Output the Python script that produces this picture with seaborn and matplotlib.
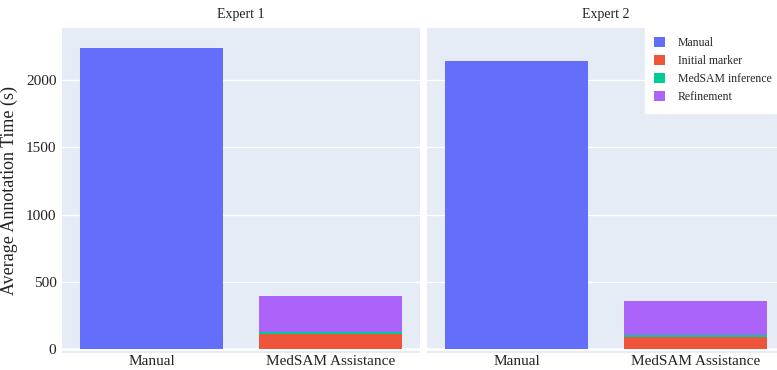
import matplotlib
matplotlib.use("Agg")
import matplotlib.pyplot as plt
import seaborn as sns
import pandas as pd
from matplotlib.patches import Patch

experts = ["Expert 1", "Expert 2"]
categories = ["Manual", "MedSAM Assistance"]
manual_time = [2236, 2140]
initial_marker = [115, 90]
medsam_inference = [12, 15]
refinement = [267, 255]

components = ["Manual", "Initial marker", "MedSAM inference", "Refinement"]
colors = {"Manual": "#636EFA", "Initial marker": "#EF553B",
          "MedSAM inference": "#00CC96", "Refinement": "#AB63FA"}

rows = []
for i, ex in enumerate(experts):
    rows.append(dict(expert=ex, category="Manual", component="Manual", top=manual_time[i]))
    c1 = initial_marker[i]
    c2 = c1 + medsam_inference[i]
    c3 = c2 + refinement[i]
    rows.append(dict(expert=ex, category="MedSAM Assistance", component="Refinement", top=c3))
    rows.append(dict(expert=ex, category="MedSAM Assistance", component="MedSAM inference", top=c2))
    rows.append(dict(expert=ex, category="MedSAM Assistance", component="Initial marker", top=c1))
df = pd.DataFrame(rows)

sns.set_theme(style="white")
plt.rcParams["font.family"] = ["Liberation Serif", "DejaVu Serif"]

fig = plt.figure(figsize=(7.77, 3.70), dpi=100)
bg = "#E5ECF6"
W = 358 / 777
H = 1 - 28 / 370 - 0.0459
axes = [fig.add_axes([62 / 777, 0.0459, W, H]),
        fig.add_axes([427 / 777, 0.0459, W, H])]

draw_order = ["Manual", "Refinement", "MedSAM inference", "Initial marker"]
for ax, ex in zip(axes, experts):
    ax.set_facecolor(bg)
    sub = df[df.expert == ex]
    for comp in draw_order:
        s = sub[sub.component == comp]
        sns.barplot(data=s, x="category", y="top", order=categories, color=colors[comp],
                    width=0.8, ax=ax, saturation=1, edgecolor="none", linewidth=0, zorder=3)
    ax.set_ylim(-30, 2387)
    ax.set_xlim(-0.5, 1.5)
    ax.set_yticks([0, 500, 1000, 1500, 2000])
    ax.grid(axis="y", color="white", linewidth=1.0, zorder=0)
    ax.set_axisbelow(True)
    ax.axhline(0, color="white", linewidth=2, zorder=2)
    for sp in ax.spines.values():
        sp.set_visible(False)
    ax.tick_params(axis="y", length=0, labelsize=11, colors="#222222", pad=4)
    ax.tick_params(axis="x", length=0, labelsize=11, colors="#222222", pad=1.5)
    ax.set_xlabel("")
    ax.set_ylabel("")
    ax.set_title(ex, fontsize=10, pad=7, color="#222222")

axes[0].set_ylabel("Average Annotation Time (s)", fontsize=13, color="#222222", labelpad=6)
axes[1].set_yticklabels([])

handles = [Patch(facecolor=colors[c], edgecolor="none", label=c) for c in components]
leg = fig.legend(handles=handles, loc="upper left", bbox_to_anchor=(645 / 777, 1 - 28 / 370),
                 bbox_transform=fig.transFigure, frameon=True, fancybox=False,
                 facecolor="white", edgecolor="white", framealpha=1, fontsize=8.5,
                 handlelength=0.9, handleheight=0.9, handletextpad=1.1,
                 labelspacing=0.5, borderpad=0.8, borderaxespad=0)

fig.savefig("out.png", dpi=100)
